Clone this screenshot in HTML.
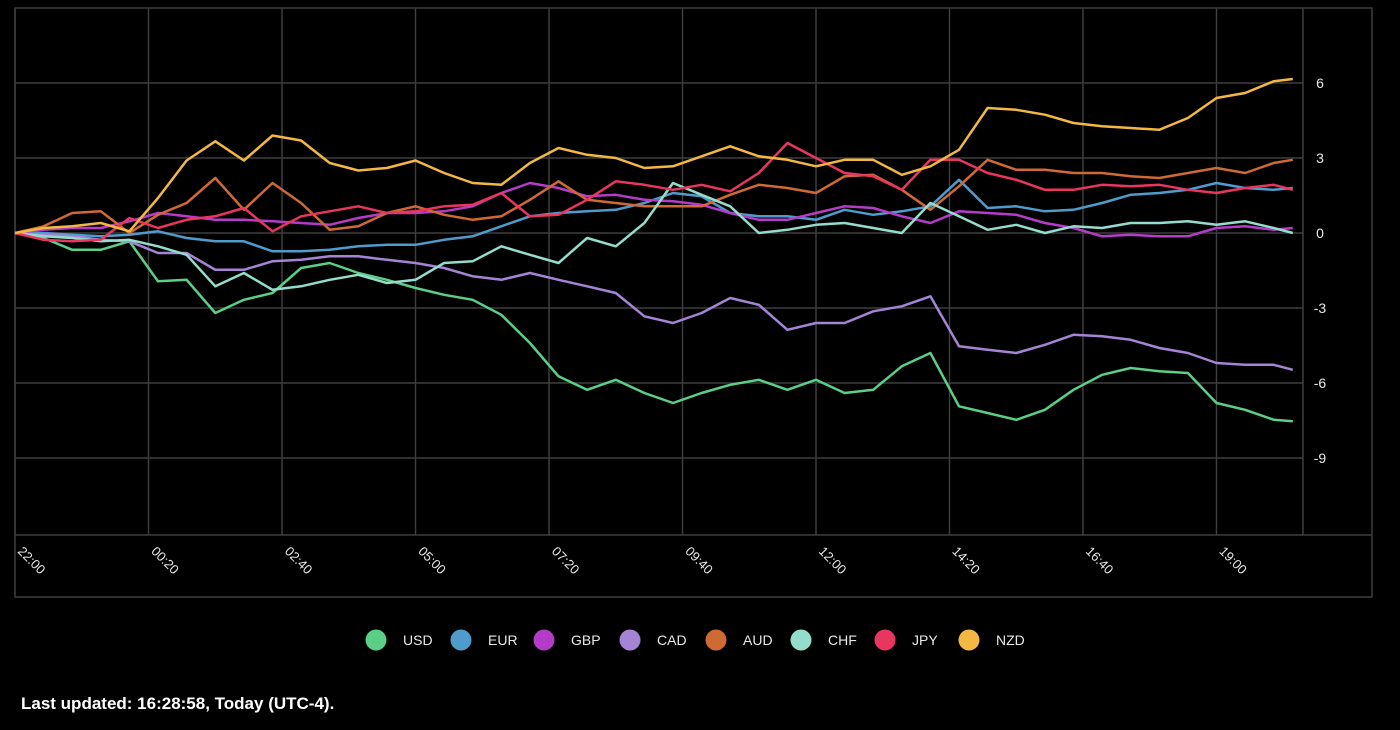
<!DOCTYPE html>
<html><head><meta charset="utf-8"><style>
html,body{margin:0;padding:0;background:#000;width:1400px;height:730px;overflow:hidden;font-family:"Liberation Sans",sans-serif;}
#footer{position:absolute;left:21px;top:694px;color:#fff;font-weight:bold;font-size:17px;}
</style></head><body>
<svg id="chart" width="1400" height="730" style="position:absolute;left:0;top:0"></svg>
<div id="footer">Last updated: 16:28:58, Today (UTC-4).</div>
<script>
const times=[0,30,60,90,120,150,180,210,240,270,300,330,360,390,420,450,480,510,540,570,600,630,660,690,720,750,780,810,840,870,900,930,960,990,1020,1050,1080,1110,1140,1170,1200,1230,1260,1290,1320,1340];
const xTickMinutes=[0,140,280,420,560,700,840,980,1120,1260];
const xTickLabels=["22:00","00:20","02:40","05:00","07:20","09:40","12:00","14:20","16:40","19:00"];
const yTicks=[6,3,0,-3,-6,-9];
const currencies=["USD","EUR","GBP","CAD","AUD","CHF","JPY","NZD"];
const colors=["#5ccf87","#4f9ccc","#b43cc8","#a584d6","#cf6a35","#94dccb","#e8365f","#f2b843"];
const usd=[0,-0.2,-0.67,-0.67,-0.33,-1.93,-1.87,-3.2,-2.67,-2.4,-1.4,-1.2,-1.6,-1.87,-2.2,-2.47,-2.67,-3.27,-4.4,-5.73,-6.27,-5.87,-6.4,-6.8,-6.4,-6.07,-5.87,-6.27,-5.87,-6.4,-6.27,-5.33,-4.8,-6.93,-7.2,-7.47,-7.07,-6.27,-5.67,-5.4,-5.53,-5.6,-6.8,-7.07,-7.47,-7.53];
const eur=[0,0,-0.07,-0.13,-0.07,0.07,-0.2,-0.33,-0.33,-0.73,-0.73,-0.67,-0.53,-0.47,-0.47,-0.27,-0.13,0.27,0.67,0.8,0.87,0.93,1.2,1.6,1.47,0.8,0.67,0.67,0.53,0.93,0.73,0.87,1.07,2.13,1.0,1.07,0.87,0.93,1.2,1.53,1.6,1.73,2.0,1.8,1.73,1.8];
const gbp=[0,0.13,0.2,0.2,0.47,0.8,0.67,0.53,0.53,0.47,0.4,0.33,0.6,0.8,0.8,0.87,1.07,1.6,2.0,1.8,1.47,1.53,1.33,1.27,1.13,0.8,0.53,0.53,0.8,1.07,1.0,0.67,0.4,0.87,0.8,0.73,0.4,0.2,-0.13,-0.07,-0.13,-0.13,0.2,0.27,0.13,0.2];
const cad=[0,-0.07,-0.13,-0.27,-0.33,-0.8,-0.8,-1.47,-1.47,-1.13,-1.07,-0.93,-0.93,-1.07,-1.2,-1.4,-1.73,-1.87,-1.6,-1.87,-2.13,-2.4,-3.33,-3.6,-3.2,-2.6,-2.87,-3.87,-3.6,-3.6,-3.13,-2.93,-2.53,-4.53,-4.67,-4.8,-4.47,-4.07,-4.13,-4.27,-4.6,-4.8,-5.2,-5.27,-5.27,-5.47];
const aud=[0,0.27,0.8,0.87,0,0.73,1.2,2.2,0.93,2.0,1.2,0.13,0.27,0.8,1.07,0.73,0.53,0.67,1.33,2.07,1.33,1.2,1.07,1.07,1.07,1.53,1.93,1.8,1.6,2.27,2.33,1.73,0.93,1.87,2.93,2.53,2.53,2.4,2.4,2.27,2.2,2.4,2.6,2.4,2.8,2.93];
const chf=[0,-0.13,-0.2,-0.33,-0.27,-0.53,-0.87,-2.13,-1.6,-2.27,-2.13,-1.87,-1.67,-2.0,-1.87,-1.2,-1.13,-0.53,-0.87,-1.2,-0.2,-0.53,0.4,2.0,1.53,1.07,0,0.13,0.33,0.4,0.2,0,1.2,0.67,0.13,0.33,0,0.27,0.2,0.4,0.4,0.47,0.33,0.47,0.2,0];
const jpy=[0,-0.27,-0.33,-0.27,0.6,0.2,0.53,0.67,1.0,0.07,0.67,0.87,1.07,0.8,0.87,1.07,1.13,1.6,0.67,0.73,1.33,2.07,1.93,1.73,1.93,1.67,2.4,3.6,3.0,2.4,2.27,1.73,2.93,2.93,2.4,2.13,1.73,1.73,1.93,1.87,1.93,1.73,1.6,1.8,1.93,1.73];
const nzd=[0,0.2,0.27,0.4,0.07,1.4,2.9,3.67,2.9,3.9,3.7,2.8,2.5,2.6,2.9,2.4,2.0,1.93,2.8,3.4,3.13,3.0,2.6,2.67,3.07,3.47,3.07,2.93,2.67,2.93,2.93,2.33,2.67,3.33,5.0,4.93,4.73,4.4,4.27,4.2,4.13,4.6,5.4,5.6,6.07,6.16];
const series=[usd,eur,gbp,cad,aud,chf,jpy,nzd];

const NS="http://www.w3.org/2000/svg";
const svg=document.getElementById('chart');
const X0=15,PXPERMIN=133.5/140,Y0=233,PXPERUNIT=25,TOP=8,BOT=535,RIGHT=1303,FRAMER=1372,FRAMEB=597;
function xs(t){return X0+t*PXPERMIN;}
function ys(v){return Y0-v*PXPERUNIT;}
function mk(tag,attrs){const e=document.createElementNS(NS,tag);for(const k in attrs)e.setAttribute(k,attrs[k]);svg.appendChild(e);return e;}

let f=mk('rect',{x:X0,y:TOP,width:FRAMER-X0,height:FRAMEB-TOP,fill:'none',stroke:'#3d3d3d','stroke-width':1.5});


yTicks.forEach(v=>{
  const l=mk('line',{x1:X0,x2:RIGHT,y1:ys(v),y2:ys(v),stroke:'#3d3d3d','stroke-width':1.5});
  
  
  const t=mk('text',{x:1320,y:ys(v)+5,fill:'#e8e8e8','font-size':14,'text-anchor':'middle','font-family':'Liberation Sans, sans-serif'});
  t.textContent=v;
  
  
});
xTickMinutes.forEach((m,i)=>{
  const x=xs(m);
  const l=mk('line',{x1:x,x2:x,y1:TOP,y2:BOT,stroke:'#3d3d3d','stroke-width':1.5});
  
  
  const t=mk('text',{x:x+2,y:552,fill:'#e8e8e8','font-size':13,'font-family':'Liberation Sans, sans-serif',transform:`rotate(45 ${x+2} 552)`});
  t.textContent=xTickLabels[i];
  
  
});
let rb=mk('line',{x1:RIGHT,x2:RIGHT,y1:TOP,y2:BOT,stroke:'#3d3d3d','stroke-width':1.5});


let xa=mk('line',{x1:X0,x2:FRAMER,y1:BOT,y2:BOT,stroke:'#3d3d3d','stroke-width':1.5});



series.forEach((s,i)=>{
  const d=s.map((v,j)=>(j?'L':'M')+xs(times[j]).toFixed(1)+' '+ys(v).toFixed(1)).join(' ');
  const p=mk('path',{d:d,fill:'none',stroke:colors[i],'stroke-width':2.5,'stroke-linejoin':'round'});
  
  
});

const legendX=[376,461,544,630,716,801,885,969];
currencies.forEach((c,i)=>{
  const g=mk('g',{});
  
  
  const ci=document.createElementNS(NS,'circle');
  ci.setAttribute('cx',legendX[i]);ci.setAttribute('cy',640);ci.setAttribute('r',10.5);ci.setAttribute('fill',colors[i]);
  
  
  g.appendChild(ci);
  const t=document.createElementNS(NS,'text');
  t.setAttribute('x',legendX[i]+27);t.setAttribute('y',645);t.setAttribute('fill','#e8e8e8');t.setAttribute('font-size',14);t.setAttribute('font-family','Liberation Sans, sans-serif');
  t.textContent=c;
  
  
  g.appendChild(t);
});
</script>
</body></html>
